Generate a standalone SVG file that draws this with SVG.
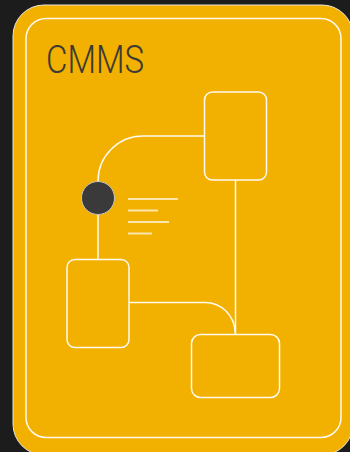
<svg xmlns="http://www.w3.org/2000/svg" width="350" height="452" viewBox="0 0 350 452">
  <style>
    .card { fill: #f2b000; }
    .frame { fill: none; stroke: #fffaf0; stroke-width: 1.5; }
    .box { fill: none; stroke: #fffaf0; stroke-width: 1.5; }
    .wire { fill: none; stroke: #fffaf0; stroke-width: 1.5; }
    .note { stroke: #fbe6ae; stroke-width: 2; }
    .title { font-family: Roboto, "Liberation Sans", sans-serif; font-weight: 300; font-size: 39px; fill: #3c3a36; }
  </style>
  <rect width="350" height="452" fill="#1c1c1c"/>

  <!-- card body with its light rim -->
  <rect class="card" x="13" y="5" width="340" height="450" rx="31" stroke="#e9e4d8" stroke-width="1"/>
  <rect class="frame" x="26" y="18.5" width="315" height="419" rx="20"/>

  <text class="title" x="46" y="73" textLength="98" lengthAdjust="spacingAndGlyphs">CMMS</text>

  <g id="connectors">
    <path class="wire" d="M204.5,136 H143 A45,45 0 0 0 98,181"/>
    <path class="wire" d="M98,215 V259.5"/>
    <path class="wire" d="M235.5,180 V334.5"/>
    <path class="wire" d="M129,302.5 H205 A30,30 0 0 1 235,332.5"/>
  </g>

  <g id="node-top">
    <rect class="box" x="204.5" y="92" width="62" height="88" rx="8"/>
  </g>

  <g id="node-hub">
    <circle cx="98" cy="198" r="16.5" fill="#3a3a3a" stroke="#c8c4bc" stroke-width="1"/>
  </g>

  <g id="node-notes">
    <line class="note" x1="128" y1="199" x2="178" y2="199"/>
    <line class="note" x1="128" y1="210.5" x2="158" y2="210.5"/>
    <line class="note" x1="128" y1="222" x2="169" y2="222"/>
    <line class="note" x1="128" y1="233.5" x2="152" y2="233.5"/>
  </g>

  <g id="node-left">
    <rect class="box" x="67" y="259.5" width="62" height="88" rx="8"/>
  </g>

  <g id="node-bottom">
    <rect class="box" x="191.5" y="334.5" width="88" height="63" rx="9"/>
  </g>
</svg>
